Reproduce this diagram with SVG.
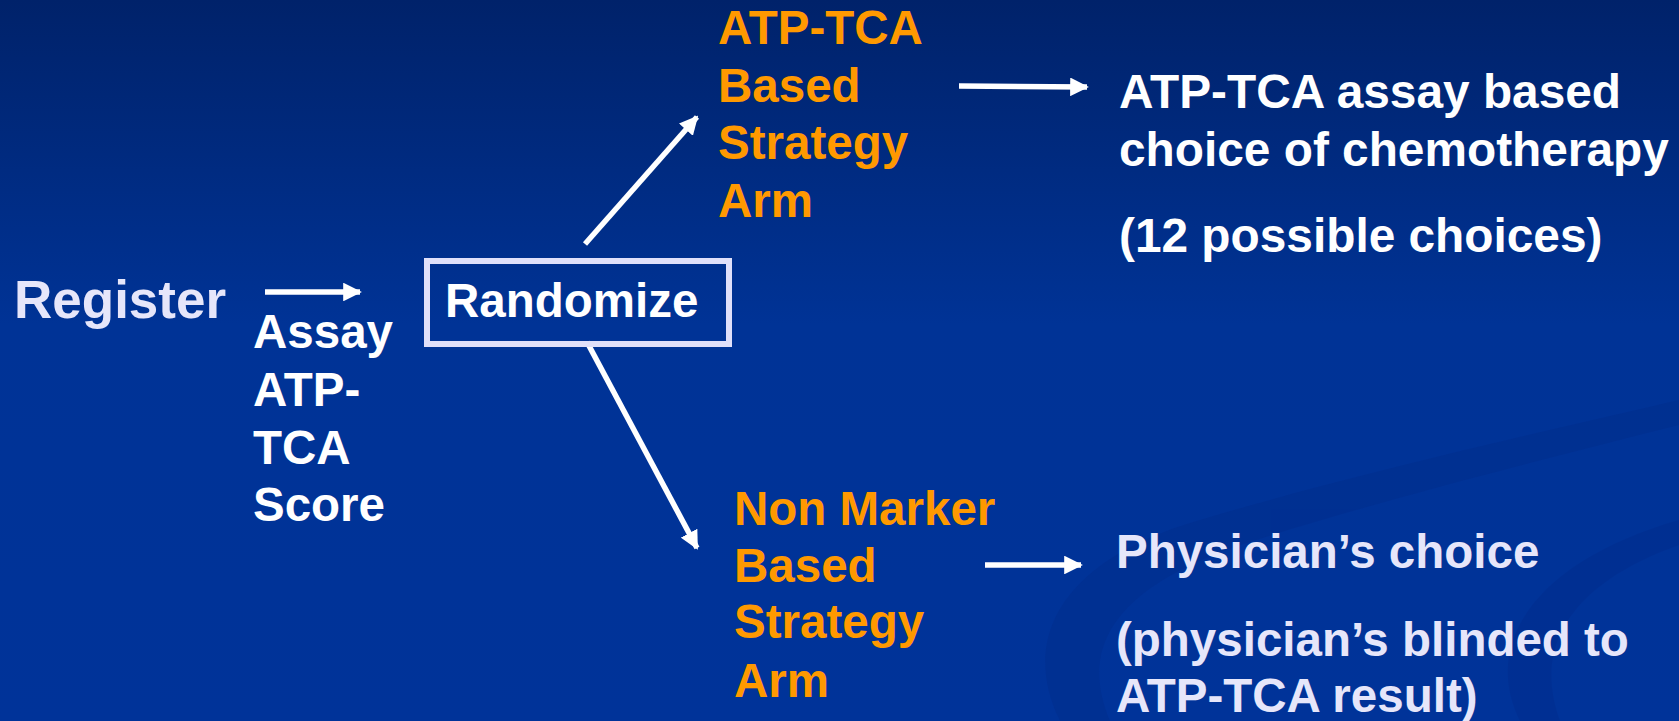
<svg xmlns="http://www.w3.org/2000/svg" width="1679" height="721" viewBox="0 0 1679 721">
  <defs>
    <linearGradient id="bg" x1="0" y1="0" x2="0" y2="1">
      <stop offset="0" stop-color="#00226a"/>
      <stop offset="0.45" stop-color="#003396"/>
      <stop offset="1" stop-color="#003399"/>
    </linearGradient>
    <marker id="head" viewBox="0 0 10 10" refX="9" refY="5" markerWidth="3.4" markerHeight="3.4" markerUnits="strokeWidth" orient="auto">
      <path d="M0,0 L10,5 L0,10 Z" fill="#ffffff"/>
    </marker>
    <style>
      text { font-family: "Liberation Sans", Arial, sans-serif; font-weight: bold; font-size: 47.5px; }
      .wht { fill: #ffffff; }
      .lav { fill: #e6e6fa; }
      .org { fill: #ff9900; }
      .arrow { stroke: #ffffff; stroke-width: 5.5; fill: none; marker-end: url(#head); }
    </style>
  </defs>

  <!-- backdrop -->
  <rect width="1679" height="721" fill="url(#bg)"/>
  <g id="swoosh" fill="#002a88" opacity="0.35">
    <path d="M1060,721 C1020,640 1060,560 1200,520 C1350,475 1550,430 1679,400 L1679,425 C1560,455 1380,500 1240,545 C1110,590 1080,650 1110,721 Z"/>
    <path d="M1520,721 C1480,640 1540,560 1679,520 L1679,545 C1580,580 1530,640 1560,721 Z"/>
  </g>

  <!-- connectors -->
  <g id="connectors">
    <line class="arrow" x1="265" y1="292" x2="360" y2="292"/>
    <line class="arrow" x1="585" y1="244" x2="697" y2="117"/>
    <line class="arrow" x1="587" y1="342" x2="697" y2="548"/>
    <line class="arrow" x1="959" y1="86" x2="1087" y2="87"/>
    <line class="arrow" x1="985" y1="565" x2="1081" y2="565"/>
  </g>

  <g id="register">
    <text class="lav" x="14" y="318" style="font-size:53px">Register</text>
  </g>

  <g id="assay">
    <text class="wht" x="253" y="348">Assay</text>
    <text class="wht" x="253" y="406">ATP-</text>
    <text class="wht" x="253" y="464">TCA</text>
    <text class="wht" x="253" y="521">Score</text>
  </g>

  <g id="randomize">
    <rect x="427" y="261" width="302" height="83" fill="none" stroke="#e0e0fa" stroke-width="6"/>
    <text class="wht" x="445" y="317">Randomize</text>
  </g>

  <g id="atp-arm">
    <text class="org" x="718" y="44">ATP-TCA</text>
    <text class="org" x="718" y="102">Based</text>
    <text class="org" x="718" y="159">Strategy</text>
    <text class="org" x="718" y="217">Arm</text>
  </g>

  <g id="atp-choice">
    <text class="wht" x="1119" y="108" style="font-size:47.8px">ATP-TCA assay based</text>
    <text class="wht" x="1119" y="166" style="font-size:47.8px">choice of chemotherapy</text>
    <text class="wht" x="1119" y="252" style="font-size:47.8px">(12 possible choices)</text>
  </g>

  <g id="nonmarker-arm">
    <text class="org" x="734" y="525">Non Marker</text>
    <text class="org" x="734" y="582">Based</text>
    <text class="org" x="734" y="638">Strategy</text>
    <text class="org" x="734" y="697">Arm</text>
  </g>

  <g id="physician-choice">
    <text class="lav" x="1116" y="568">Physician’s choice</text>
    <text class="lav" x="1116" y="656">(physician’s blinded to</text>
    <text class="lav" x="1116" y="712">ATP-TCA result)</text>
  </g>
</svg>
